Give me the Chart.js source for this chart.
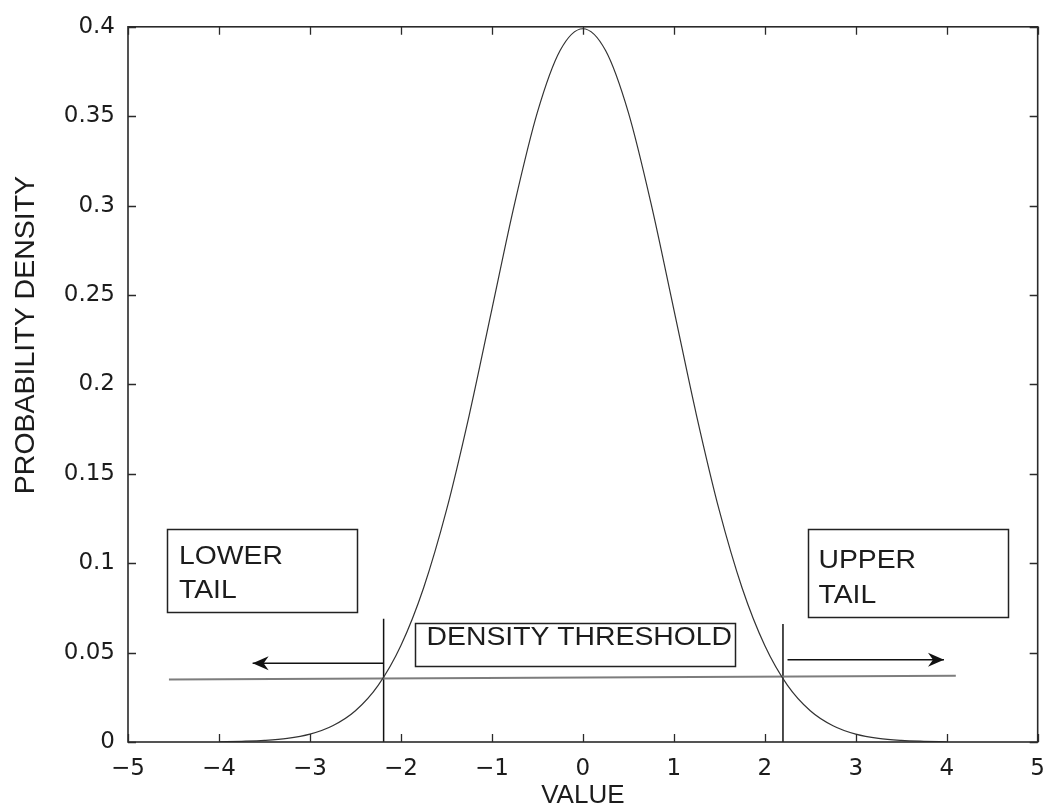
<!DOCTYPE html>
<html>
<head>
<meta charset="utf-8">
<script src="https://cdn.jsdelivr.net/npm/chart.js@4.4.1/dist/chart.umd.min.js"></script>
<style>
  html, body { margin: 0; padding: 0; background: #ffffff; }
  canvas { display: block; }
</style>
</head>
<body>
<canvas id="chart" width="1058" height="809"></canvas>
<script>
// Probability density of the variable, sampled every 0.25
const curveX = [-4, -3.75, -3.5, -3.25, -3, -2.75, -2.5, -2.25, -2, -1.75, -1.5, -1.25, -1, -0.75, -0.5, -0.25,
                0, 0.25, 0.5, 0.75, 1, 1.25, 1.5, 1.75, 2, 2.25, 2.5, 2.75, 3, 3.25, 3.5, 3.75, 4];
const curveY = [0.0001, 0.0004, 0.0009, 0.0020, 0.0044, 0.0091, 0.0175, 0.0317, 0.0540, 0.0863, 0.1295, 0.1826,
                0.2420, 0.3011, 0.3521, 0.3867, 0.3989, 0.3867, 0.3521, 0.3011, 0.2420, 0.1826, 0.1295, 0.0863,
                0.0540, 0.0317, 0.0175, 0.0091, 0.0044, 0.0020, 0.0009, 0.0004, 0.0001];

// Density threshold line (end points)
const thresholdX = [-4.55, 4.1];
const thresholdY = [0.035, 0.037];

// Cut-off values where the density meets the threshold, and the heights of their markers
const cutoffX = [-2.19, 2.2];
const cutoffTop = [0.069, 0.066];

// Arrows pointing into each tail: [start, tip] and their height
const lowerArrowX = [-2.19, -3.63];
const lowerArrowY = 0.044;
const upperArrowX = [2.25, 3.97];
const upperArrowY = 0.046;

// Axis ranges and tick steps
const xRange = [-5, 5];
const yRange = [0, 0.4];
const xStep = 1;
const yStep = 0.05;

// Annotation texts
const lowerTailText = ['LOWER', 'TAIL'];
const upperTailText = ['UPPER', 'TAIL'];
const thresholdText = 'DENSITY THRESHOLD';
const xTitle = 'VALUE';
const yTitle = 'PROBABILITY DENSITY';

const pts = (xs, ys) => xs.map((v, i) => ({ x: v, y: ys[i] }));

const labelFont = '26px "Liberation Sans", Arial, sans-serif';

// Boxed labels placed in data coordinates
const boxes = [
  { x0: -4.573, x1: -2.484, y0: 0.1194, y1: 0.0728, tx: -4.44, lines: lowerTailText, baselines: [0.0994, 0.0806] },
  { x0: 2.473, x1: 4.672, y0: 0.1194, y1: 0.0700, tx: 2.59, lines: upperTailText, baselines: [0.0972, 0.0778] },
  { x0: -1.849, x1: 1.674, y0: 0.0667, y1: 0.0428, tx: -1.718, lines: [thresholdText], baselines: [0.0544] }
];

function arrowHead(ctx, tx, ty, dir) {
  ctx.beginPath();
  ctx.moveTo(tx, ty);
  ctx.lineTo(tx - dir * 16, ty - 7);
  ctx.lineTo(tx - dir * 11, ty);
  ctx.lineTo(tx - dir * 16, ty + 7);
  ctx.closePath();
  ctx.fill();
}

const decorPlugin = {
  id: 'decor',
  afterDatasetsDraw(chart) {
    const { ctx, chartArea: a, scales: { x, y } } = chart;
    ctx.save();

    // Arrow heads at the tips of the two arrows
    ctx.fillStyle = '#111';
    arrowHead(ctx, x.getPixelForValue(lowerArrowX[1]), y.getPixelForValue(lowerArrowY), -1);
    arrowHead(ctx, x.getPixelForValue(upperArrowX[1]), y.getPixelForValue(upperArrowY), 1);

    // Boxed annotations
    ctx.strokeStyle = '#222';
    ctx.lineWidth = 1.5;
    ctx.fillStyle = '#1c1c1c';
    ctx.font = labelFont;
    ctx.textBaseline = 'alphabetic';
    ctx.textAlign = 'left';
    boxes.forEach(b => {
      const l = x.getPixelForValue(b.x0), r = x.getPixelForValue(b.x1);
      const t = y.getPixelForValue(b.y0), bt = y.getPixelForValue(b.y1);
      ctx.strokeRect(Math.round(l) + 0.5, Math.round(t) + 0.5, Math.round(r - l), Math.round(bt - t));
      b.lines.forEach((s, i) => {
        ctx.save();
        ctx.translate(x.getPixelForValue(b.tx), y.getPixelForValue(b.baselines[i]));
        ctx.scale(1.09, 1);
        ctx.fillText(s, 0, 0);
        ctx.restore();
      });
    });

    // Axes box with inward ticks on all four sides
    ctx.strokeStyle = '#2a2a2a';
    ctx.lineWidth = 1.6;
    ctx.strokeRect(a.left, a.top, a.right - a.left, a.bottom - a.top);
    ctx.lineWidth = 1.3;
    ctx.beginPath();
    x.ticks.forEach(tk => {
      const px = Math.round(x.getPixelForValue(tk.value)) + 0.5;
      ctx.moveTo(px, a.bottom); ctx.lineTo(px, a.bottom - 8);
      ctx.moveTo(px, a.top); ctx.lineTo(px, a.top + 8);
    });
    y.ticks.forEach(tk => {
      const py = Math.round(y.getPixelForValue(tk.value)) + 0.5;
      ctx.moveTo(a.left, py); ctx.lineTo(a.left + 8, py);
      ctx.moveTo(a.right, py); ctx.lineTo(a.right - 8, py);
    });
    ctx.stroke();
    ctx.restore();
  },
  afterDraw(chart) {
    const { ctx, chartArea: a } = chart;
    ctx.save();
    ctx.fillStyle = '#1c1c1c';
    ctx.font = '28.5px "Liberation Sans", Arial, sans-serif';
    ctx.textAlign = 'center';
    ctx.textBaseline = 'middle';
    ctx.translate(26, a.top + (a.bottom - a.top) * 0.431);
    ctx.rotate(-Math.PI / 2);
    ctx.fillText(yTitle, 0, 0);
    ctx.restore();
  }
};

const lineDs = (data, color, width) => ({
  data, borderColor: color, borderWidth: width, showLine: true,
  pointRadius: 0, fill: false, tension: 0
});

const tickFont = { family: '"DejaVu Sans", sans-serif', size: 23 };

new Chart(document.getElementById('chart'), {
  type: 'scatter',
  data: {
    datasets: [
      Object.assign(lineDs(pts(curveX, curveY), '#333', 1.2), { cubicInterpolationMode: 'monotone' }),
      lineDs(pts(thresholdX, thresholdY), '#7d7d7d', 2),
      lineDs(pts([cutoffX[0], cutoffX[0]], [0, cutoffTop[0]]), '#111', 1.5),
      lineDs(pts([cutoffX[1], cutoffX[1]], [0, cutoffTop[1]]), '#111', 1.5),
      lineDs(pts(lowerArrowX, [lowerArrowY, lowerArrowY]), '#111', 1.5),
      lineDs(pts(upperArrowX, [upperArrowY, upperArrowY]), '#111', 1.5)
    ]
  },
  options: {
    responsive: false,
    animation: false,
    devicePixelRatio: 1,
    layout: { padding: { top: 22, right: 16, left: 0, bottom: 0 } },
    plugins: { legend: { display: false }, tooltip: { enabled: false } },
    scales: {
      x: {
        type: 'linear',
        min: xRange[0], max: xRange[1],
        grid: { display: false, drawTicks: false },
        border: { display: false },
        ticks: {
          stepSize: xStep,
          padding: 13,
          color: '#1c1c1c',
          font: tickFont,
          callback: v => (v < 0 ? '\u2212' + Math.abs(v) : String(v))
        },
        title: {
          display: true, text: xTitle, color: '#1c1c1c',
          font: { family: '"Liberation Sans", Arial, sans-serif', size: 26, lineHeight: 1 },
          padding: { top: 0, bottom: 0 }
        },
        afterFit: s => { s.height = 67; }
      },
      y: {
        type: 'linear',
        min: yRange[0], max: yRange[1],
        grid: { display: false, drawTicks: false },
        border: { display: false },
        ticks: {
          stepSize: yStep,
          padding: 13,
          color: '#1c1c1c',
          font: tickFont,
          callback: v => String(Number(v.toFixed(2)))
        },
        afterFit: s => { s.width = 128; }
      }
    }
  },
  plugins: [decorPlugin]
});
</script>
</body>
</html>
